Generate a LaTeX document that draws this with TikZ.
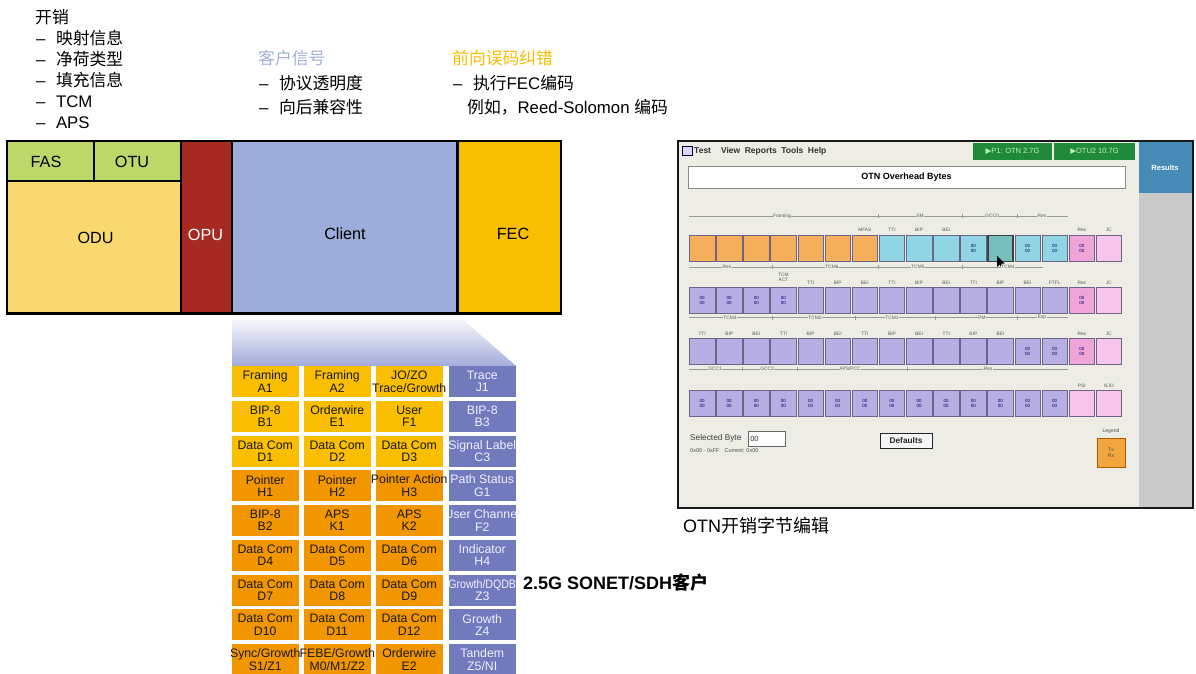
\documentclass[tikz,border=0pt]{standalone}
\usepackage{fontspec}
\setmainfont{Liberation Sans}
\newfontfamily\cjk{Noto Sans CJK SC}
\newfontfamily\djv{DejaVu Sans}
\definecolor{fasgreen}{RGB}{189,215,104}
\definecolor{oduyellow}{RGB}{249,217,111}
\definecolor{opured}{RGB}{166,41,34}
\definecolor{clientblue}{RGB}{155,173,216}
\definecolor{fecgold}{RGB}{248,190,0}
\definecolor{hdrblue}{RGB}{160,176,222}
\definecolor{hdrgold}{RGB}{249,190,0}
\definecolor{cY}{RGB}{249,190,0}
\definecolor{cO}{RGB}{242,150,0}
\definecolor{cB}{RGB}{113,122,189}
\definecolor{gradblue}{RGB}{163,171,218}
\definecolor{shotbg}{RGB}{237,237,230}
\definecolor{cOr}{RGB}{245,175,91}
\definecolor{cCy}{RGB}{143,213,227}
\definecolor{cSel}{RGB}{120,190,190}
\definecolor{cPk}{RGB}{239,165,216}
\definecolor{cLp}{RGB}{246,198,234}
\definecolor{cLv}{RGB}{183,174,227}
\definecolor{scbord}{RGB}{110,100,135}
\definecolor{resblue}{RGB}{70,140,182}
\definecolor{sidegray}{RGB}{201,201,201}
\definecolor{stgreen}{RGB}{32,138,58}
\definecolor{stgtext}{RGB}{190,240,190}
\definecolor{legor}{RGB}{242,166,64}
\newcommand\shotcell[5]{\pgfmathsetmacro\cx{702.1+(#2-1)*27.125}\node[scell,fill=#4] (#1) at (\cx,#3) {#5};}
% grid cell: name, center x, center y, fill colour, text style, text
\newcommand\gridcell[6]{\fill[#4] ({#2-33.25},{#3-15.5}) rectangle ({#2+33.25},{#3+15.5});\node[gtext,#5] (#1) at (#2,#3) {#6};}
\begin{document}
\begin{tikzpicture}[x=1pt,y=-1pt,
  txt/.style={inner sep=0, anchor=west, font=\fontsize{16.8}{20}\selectfont},
  lbl/.style={inner sep=0, font=\fontsize{16.2}{18}\selectfont},
  fl/.style={line width=2.2pt, black},
  gtext/.style={inner sep=0, align=center, font=\fontsize{12.3}{12.4}\selectfont, text=black!90},
  wt/.style={text=white!94!blue},
  scell/.style={draw=scbord, line width=0.7pt, minimum width=25.5pt, minimum height=26pt, inner sep=0, align=center, font=\fontsize{4.5}{5}\selectfont, text=blue!40!black},
  tiny/.style={inner sep=0.6pt, font=\fontsize{4.8}{5.2}\selectfont, text=black!65, align=center},
  gline/.style={draw=black!40, line width=0.5pt}]
\useasboundingbox (0,0) rectangle (1196,674);
\fill[white] (0,0) rectangle (1196,674);

% ---------- top texts ----------
\node[txt] (oh) at (35,17) {\cjk 开销};
\node[txt] (oh1) at (36,38.5) {–\hspace{10.5pt}{\cjk 映射信息}};
\node[txt] (oh2) at (36,59.5) {–\hspace{10.5pt}{\cjk 净荷类型}};
\node[txt] (oh3) at (36,80.5) {–\hspace{10.5pt}{\cjk 填充信息}};
\node[txt] (oh4) at (36,101.5) {–\hspace{10.5pt}TCM};
\node[txt] (oh5) at (36,123) {–\hspace{10.5pt}APS};

\node[txt, text=hdrblue] (cs) at (258,58) {\cjk 客户信号};
\node[txt] (cs1) at (259,83) {–\hspace{10.5pt}{\cjk 协议透明度}};
\node[txt] (cs2) at (259,107) {–\hspace{10.5pt}{\cjk 向后兼容性}};

\node[txt, text=hdrgold] (fe) at (452,58) {\cjk 前向误码纠错};
\node[txt] (fe1) at (453,83) {–\hspace{10.5pt}{\cjk 执行}FEC{\cjk 编码}};
\node[txt] (fe2) at (467,107) {{\cjk 例如，}Reed-Solomon {\cjk 编码}};

% ---------- frame ----------
\fill[fasgreen] (7,141) rectangle (180.6,181);
\fill[oduyellow] (7,181) rectangle (180.6,313.5);
\fill[opured] (180.6,141) rectangle (232,313.5);
\fill[clientblue] (232,141) rectangle (457.5,313.5);
\fill[fecgold] (457.5,141) rectangle (561,313.5);
\shade[top color=white, bottom color=gradblue] (232,315) -- (457.5,315) -- (516,366) -- (232,366) -- cycle;
\draw[fl] (7,141) rectangle (561,313.5);
\draw[fl] (94,141) -- (94,181);
\draw[fl] (7,181) -- (180.6,181);
\draw[fl] (180.6,141) -- (180.6,313.5);
\draw[fl] (232,141) -- (232,313.5);
\draw[fl] (457.5,141) -- (457.5,313.5);
\node[lbl] (fas) at (46,161.5) {FAS};
\node[lbl] (otu) at (132,161.5) {OTU};
\node[lbl] (odu) at (95.5,238) {ODU};
\node[lbl, text=white] (opu) at (205.5,235) {OPU};
\node[lbl] (client) at (345,234) {Client};
\node[lbl] (fec) at (513,234) {FEC};

% ---------- SONET overhead grid ----------
\gridcell{a1}{265.25}{381.5}{cY}{}{Framing\\A1}
\gridcell{a2}{337.25}{381.5}{cY}{}{Framing\\A2}
\gridcell{a3}{409.25}{381.5}{cY}{}{JO/ZO\\Trace/Growth}
\gridcell{a4}{482.25}{381.5}{cB}{wt}{Trace\\J1}
\gridcell{b1}{265.25}{416.25}{cY}{}{BIP-8\\B1}
\gridcell{b2}{337.25}{416.25}{cY}{}{Orderwire\\E1}
\gridcell{b3}{409.25}{416.25}{cY}{}{User\\F1}
\gridcell{b4}{482.25}{416.25}{cB}{wt}{BIP-8\\B3}
\gridcell{c1}{265.25}{451}{cY}{}{Data Com\\D1}
\gridcell{c2}{337.25}{451}{cY}{}{Data Com\\D2}
\gridcell{c3}{409.25}{451}{cY}{}{Data Com\\D3}
\gridcell{c4}{482.25}{451}{cB}{wt}{Signal Label\\C3}
\gridcell{d1}{265.25}{485.75}{cO}{}{Pointer\\H1}
\gridcell{d2}{337.25}{485.75}{cO}{}{Pointer\\H2}
\gridcell{d3}{409.25}{485.75}{cO}{}{Pointer Action\\H3}
\gridcell{d4}{482.25}{485.75}{cB}{wt}{Path Status\\G1}
\gridcell{e1}{265.25}{520.5}{cO}{}{BIP-8\\B2}
\gridcell{e2}{337.25}{520.5}{cO}{}{APS\\K1}
\gridcell{e3}{409.25}{520.5}{cO}{}{APS\\K2}
\gridcell{e4}{482.25}{520.5}{cB}{wt}{User Channel\\F2}
\gridcell{f1}{265.25}{555.25}{cO}{}{Data Com\\D4}
\gridcell{f2}{337.25}{555.25}{cO}{}{Data Com\\D5}
\gridcell{f3}{409.25}{555.25}{cO}{}{Data Com\\D6}
\gridcell{f4}{482.25}{555.25}{cB}{wt}{Indicator\\H4}
\gridcell{g1}{265.25}{590}{cO}{}{Data Com\\D7}
\gridcell{g2}{337.25}{590}{cO}{}{Data Com\\D8}
\gridcell{g3}{409.25}{590}{cO}{}{Data Com\\D9}
\gridcell{g4}{482.25}{590}{cB}{wt}{\scalebox{0.86}[1]{Growth/DQDB}\\Z3}
\gridcell{h1}{265.25}{624.75}{cO}{}{Data Com\\D10}
\gridcell{h2}{337.25}{624.75}{cO}{}{Data Com\\D11}
\gridcell{h3}{409.25}{624.75}{cO}{}{Data Com\\D12}
\gridcell{h4}{482.25}{624.75}{cB}{wt}{Growth\\Z4}
\gridcell{i1}{265.25}{659.5}{cO}{}{Sync/Growth\\S1/Z1}
\gridcell{i2}{337.25}{659.5}{cO}{}{FEBE/Growth\\M0/M1/Z2}
\gridcell{i3}{409.25}{659.5}{cO}{}{Orderwire\\E2}
\gridcell{i4}{482.25}{659.5}{cB}{wt}{Tandem\\Z5/NI}

\node[inner sep=0, anchor=west, font=\fontsize{18}{20}\selectfont\bfseries] (sonet) at (523,583) {2.5G SONET/SDH{\cjk\bfseries 客户}};

% ---------- screenshot ----------
\fill[shotbg] (678,141) rectangle (1193,508);
\fill[resblue] (1139,141) rectangle (1193,193);
\fill[sidegray] (1139,193) rectangle (1193,508);
\node[inner sep=0, font=\fontsize{7.5}{8}\selectfont\bfseries, text=white] (results) at (1165,168) {Results};
% menu
\draw[blue!30!black, line width=0.8pt, fill=white!85!blue] (682,146.5) rectangle (692,155.5);
\node[inner sep=0, anchor=west, font=\fontsize{8.5}{9}\selectfont\bfseries, text=black!80] (menu) at (694,151) {Test\hspace{10pt}View\hspace{4.5pt}Reports\hspace{4.5pt}Tools\hspace{4.5pt}Help};
\fill[stgreen] (973,142.5) rectangle (1052,160);
\fill[stgreen] (1054,142.5) rectangle (1135,160);
\node[inner sep=0, font=\fontsize{7.5}{8}\selectfont, text=stgtext] (st1) at (1012.5,151.2) {{\djv ▶}P1: OTN 2.7G};
\node[inner sep=0, font=\fontsize{7.5}{8}\selectfont, text=stgtext] (st2) at (1094.5,151.2) {{\djv ▶}OTU2 10.7G};
% title
\node[draw=black!45, line width=0.8pt, fill=white, minimum width=437pt, minimum height=22pt, inner sep=0, font=\fontsize{9}{10}\selectfont\bfseries] (title) at (906.5,177) {OTN Overhead Bytes};

% group lines above row 1
\draw[gline] (689,216) -- (1068,216);
\foreach \x in {878,962,1017} {\draw[gline] (\x,214) -- (\x,218);}
\node[tiny, fill=shotbg] (gl1) at (782,216) {Framing};
\node[tiny, fill=shotbg] (gl2) at (920,216) {SM};
\node[tiny, fill=shotbg] (gl3) at (992,216) {GCC0};
\node[tiny, fill=shotbg] (gl4) at (1042,216) {Res};
\foreach \i/\t in {7/MFAS,8/TTI,9/BIP,10/BEI,15/Res,16/JC} {\node[tiny] (l1-\i) at ({702.1+(\i-1)*27.125},229.5) {\t};}
% row 1
\foreach \i in {1,...,7} {\shotcell{r1c\i}{\i}{248.5}{cOr}{}}
\foreach \i in {8,9,10} {\shotcell{r1c\i}{\i}{248.5}{cCy}{}}
\foreach \i in {11,13,14} {\shotcell{r1c\i}{\i}{248.5}{cCy}{00\\00}}
\shotcell{r1c15}{15}{248.5}{cPk}{00\\00}
\shotcell{r1c16}{16}{248.5}{cLp}{}
\pgfmathsetmacro\cx{702.1+11*27.125}
\node[scell, fill=cSel, draw=black!75, line width=1.6pt] (r1c12) at (\cx,248.5) {};
\fill[black] (997,256) -- (997,267) -- (999.6,264.4) -- (1001.8,268.6) -- (1003.2,267.9) -- (1001,263.8) -- (1004.6,263.6) -- cycle;

% lines below row 1
\draw[gline] (689,267) -- (1043,267);
\foreach \x in {772,878,962} {\draw[gline] (\x,265) -- (\x,269);}
\node[tiny, fill=shotbg] (gm1) at (727,267) {Res};
\node[tiny, fill=shotbg] (gm2) at (832,267) {TCM6};
\node[tiny, fill=shotbg] (gm3) at (918,267) {TCM5};
\node[tiny, fill=shotbg] (gm4) at (1008,267) {TCM4};
\node[tiny] (tcmact) at ({702.1+3*27.125},277.5) {TCM\\ACT};
\foreach \i/\t in {5/TTI,6/BIP,7/BEI,8/TTI,9/BIP,10/BEI,11/TTI,12/BIP,13/BEI,14/FTFL,15/Res,16/JC} {\node[tiny] (l2-\i) at ({702.1+(\i-1)*27.125},282.5) {\t};}
% row 2
\foreach \i in {1,...,4} {\shotcell{r2c\i}{\i}{300.5}{cLv}{00\\00}}
\foreach \i in {5,...,14} {\shotcell{r2c\i}{\i}{300.5}{cLv}{}}
\shotcell{r2c15}{15}{300.5}{cPk}{00\\00}
\shotcell{r2c16}{16}{300.5}{cLp}{}

% lines below row 2
\draw[gline] (689,317.5) -- (1068,317.5);
\foreach \x in {772,855,935,1017} {\draw[gline] (\x,315.5) -- (\x,319.5);}
\node[tiny, fill=shotbg] (gn1) at (730,317.5) {TCM3};
\node[tiny, fill=shotbg] (gn2) at (815,317.5) {TCM2};
\node[tiny, fill=shotbg] (gn3) at (892,317.5) {TCM1};
\node[tiny, fill=shotbg] (gn4) at (982,317.5) {PM};
\node[tiny, fill=shotbg] (gn5) at (1042,317.5) {Exp};
\foreach \i/\t in {1/TTI,2/BIP,3/BEI,4/TTI,5/BIP,6/BEI,7/TTI,8/BIP,9/BEI,10/TTI,11/BIP,12/BEI,15/Res,16/JC} {\node[tiny] (l3-\i) at ({702.1+(\i-1)*27.125},334) {\t};}
% row 3
\foreach \i in {1,...,12} {\shotcell{r3c\i}{\i}{351.5}{cLv}{}}
\foreach \i in {13,14} {\shotcell{r3c\i}{\i}{351.5}{cLv}{00\\00}}
\shotcell{r3c15}{15}{351.5}{cPk}{00\\00}
\shotcell{r3c16}{16}{351.5}{cLp}{}

% lines below row 3
\draw[gline] (689,369) -- (1068,369);
\foreach \x in {742,797,907} {\draw[gline] (\x,367) -- (\x,371);}
\node[tiny, fill=shotbg] (go1) at (715,369) {GCC1};
\node[tiny, fill=shotbg] (go2) at (767,369) {GCC2};
\node[tiny, fill=shotbg] (go3) at (850,369) {APS/PCC};
\node[tiny, fill=shotbg] (go4) at (988,369) {Res};
\foreach \i/\t in {15/PSI,16/NJO} {\node[tiny] (l4-\i) at ({702.1+(\i-1)*27.125},386) {\t};}
% row 4
\foreach \i in {1,...,14} {\shotcell{r4c\i}{\i}{403.5}{cLv}{00\\00}}
\shotcell{r4c15}{15}{403.5}{cLp}{}
\shotcell{r4c16}{16}{403.5}{cLp}{}

% bottom controls
\node[inner sep=0, anchor=west, font=\fontsize{8.3}{9}\selectfont, text=black!75] (selb) at (690,438.5) {Selected Byte};
\node[draw=black!60, line width=0.6pt, fill=white, minimum width=37pt, minimum height=15pt, inner sep=1pt, anchor=west, font=\fontsize{7.5}{8}\selectfont, text=black!80, text width=33pt] (selbox) at (748,438.5) {00};
\node[inner sep=0, anchor=west, font=\fontsize{5.5}{6}\selectfont, text=black!70] (range) at (690,451) {0x00 - 0xFF\hspace{5pt}Current: 0x00};
\node[draw=black!85, line width=0.8pt, fill=white!96!black, minimum width=52pt, minimum height=15pt, inner sep=0, font=\fontsize{8.3}{9}\selectfont\bfseries, text=black!85] (defaults) at (906,440.5) {Defaults};
\node[inner sep=0, font=\fontsize{5}{5.5}\selectfont, text=black!70] (legend) at (1111,431) {Legend};
\node[draw=orange!70!black, line width=0.6pt, fill=legor, minimum width=28pt, minimum height=29pt, inner sep=0, align=center, font=\fontsize{5}{6}\selectfont, text=black!70] (legbox) at (1111,452.5) {Tx\\Rx};

\draw[line width=2pt, black!90] (678,141) rectangle (1193,508);
\node[inner sep=0, anchor=west, font=\fontsize{18}{20}\selectfont] (cap) at (683,526) {OTN{\cjk 开销字节编辑}};
\end{tikzpicture}
\end{document}
